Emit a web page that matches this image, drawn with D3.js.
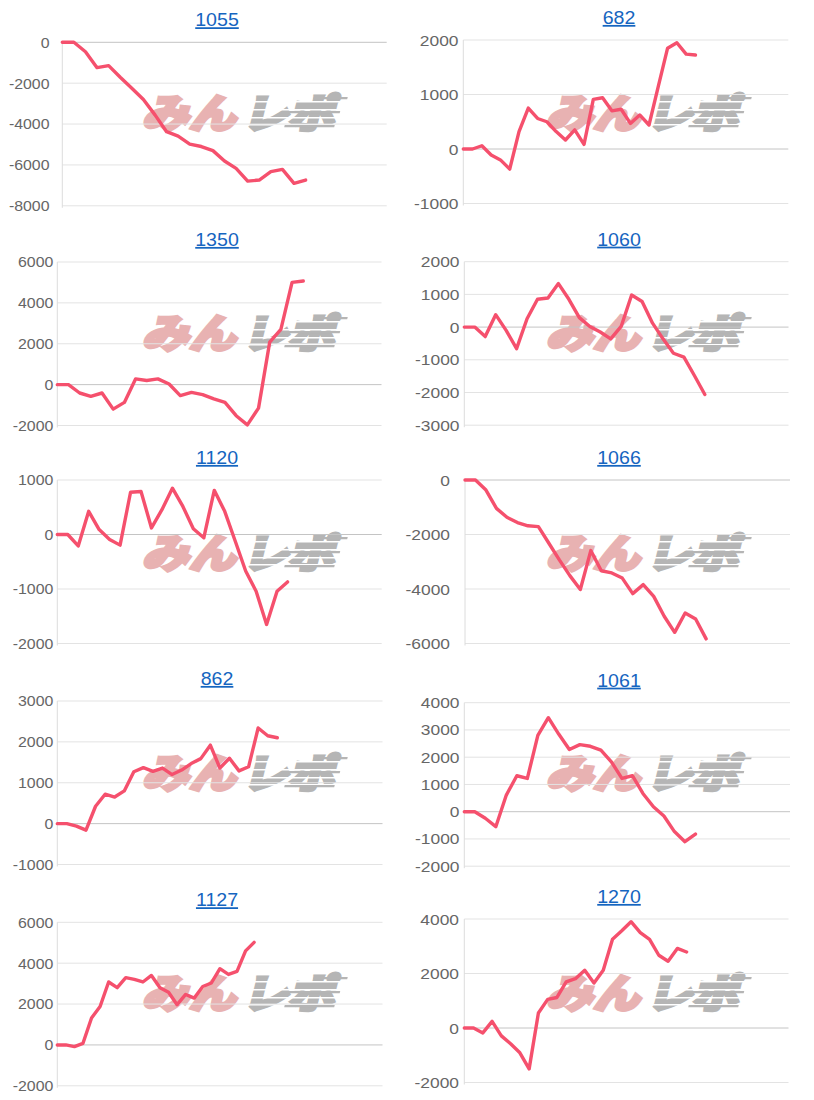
<!DOCTYPE html>
<html><head><meta charset="utf-8">
<script src="https://cdn.jsdelivr.net/npm/d3@7"></script>
<style>body{margin:0;background:#fff}svg{display:block}</style>
</head><body>
<svg id="c" width="814" height="1100"></svg>
<script>
// ---- data ----
const titles = ["1055","682","1350","1060","1120","1066","862","1061","1127","1270"];
const v1055 = [0,0,-460,-1240,-1140,-1710,-2250,-2800,-3550,-4375,-4590,-4980,-5100,-5300,-5810,-6170,-6790,-6740,-6330,-6220,-6900,-6740];
const v682  = [0,0,60,-110,-200,-370,320,750,560,500,320,165,350,85,910,940,700,730,470,625,440,1150,1850,1950,1740,1725];
const v1350 = [0,0,-410,-570,-410,-1200,-870,280,200,280,30,-540,-380,-490,-700,-870,-1520,-1970,-1150,2080,2700,5000,5070];
const v1060 = [0,0,-290,380,-100,-660,255,850,890,1330,850,290,20,-150,-360,20,980,785,120,-360,-800,-920,-1480,-2060];
const v1120 = [0,0,-210,425,90,-90,-195,775,790,120,455,850,515,105,-60,810,425,-120,-670,-1040,-1650,-1040,-870];
const v1066 = [0,0,-370,-1040,-1370,-1560,-1680,-1710,-2320,-2930,-3510,-4020,-2590,-3330,-3410,-3600,-4170,-3840,-4270,-5000,-5590,-4880,-5100,-5830];
const v862  = [0,0,-60,-160,425,720,650,800,1270,1370,1280,1360,1200,1310,1470,1590,1920,1360,1600,1290,1390,2340,2150,2100];
const v1061 = [0,0,-240,-550,610,1320,1220,2800,3450,2840,2280,2460,2400,2260,1830,1220,1320,670,180,-160,-730,-1100,-820];
const v1127 = [0,0,-80,80,1320,1880,3080,2800,3290,3210,3080,3400,2800,2580,1970,2470,2290,2860,3030,3730,3450,3600,4600,5020];
const v1270 = [0,0,-180,245,-290,-580,-910,-1500,550,1050,1120,1690,1810,2120,1650,2120,3260,3570,3900,3500,3250,2670,2450,2920,2790];
const seriesList = [v1055,v682,v1350,v1060,v1120,v1066,v862,v1061,v1127,v1270];
const yTicks = [
  [0,-2000,-4000,-6000,-8000],
  [2000,1000,0,-1000],
  [6000,4000,2000,0,-2000],
  [2000,1000,0,-1000,-2000,-3000],
  [1000,0,-1000,-2000],
  [0,-2000,-4000,-6000],
  [3000,2000,1000,0,-1000],
  [4000,3000,2000,1000,0,-1000,-2000],
  [6000,4000,2000,0,-2000],
  [4000,2000,0,-2000]
];
const slotCounts = [28,35,29,31,31,31,34,31,38,35];
const wmPink = "みん";
const wmGray = "レポ";

// ---- layout ----
const layout = [
  {left:62.3, right:386.7, top:42.3, labelX:49.5},
  {left:463.3,right:788.3, top:40,   labelX:458.5},
  {left:57.3, right:381.5, top:262,  labelX:53.3},
  {left:464.3,right:788.5, top:261.7,labelX:459.5},
  {left:57.3, right:381.7, top:480,  labelX:53.3},
  {left:465,  right:790,   top:480,  labelX:450},
  {left:57.3, right:382.5, top:701,  labelX:53.3},
  {left:464.3,right:790,   top:702.7,labelX:459.5},
  {left:57.3, right:382.5, top:922.3,labelX:53.3},
  {left:464.3,right:788.5, top:919,  labelX:459}
];
const plotH = 163.5;
const lineColor = "#f5506d";

const svg = d3.select("#c");

titles.forEach((t,i)=>{
  const L = layout[i];
  const isRight = i % 2 === 1;
  const vals = yTicks[i];
  const y = d3.scaleLinear().domain([d3.min(vals), d3.max(vals)]).range([L.top+plotH, L.top]);
  const x = d3.scaleLinear().domain([0, slotCounts[i]]).range([L.left, L.right]);
  const g = svg.append("g");
  const panelTop = Math.floor(i/2)*220;

  // watermark
  const wmX = isRight ? 538 : 134;
  const wmY = panelTop + 128;
  const wm = g.append("g").attr("transform", `translate(${wmX},${wmY}) skewX(-14)`);
  wm.append("text").attr("x", 8).attr("y", 0)
    .attr("font-family","'Noto Sans CJK JP'").attr("font-weight",900).attr("font-size",40)
    .attr("textLength",94).attr("lengthAdjust","spacingAndGlyphs")
    .attr("fill","#e8b2b2").attr("stroke","#e8b2b2").attr("stroke-width",3.2).attr("stroke-linejoin","miter")
    .text(wmPink);
  wm.append("text").attr("x", 108).attr("y", 0)
    .attr("font-family","'Noto Sans CJK JP'").attr("font-weight",900).attr("font-size",40)
    .attr("textLength",92).attr("lengthAdjust","spacingAndGlyphs")
    .attr("fill","#b5b5b5").attr("stroke","#b5b5b5").attr("stroke-width",3.2)
    .text(wmGray);
  [-27,-19,-11,-4].forEach(dy=>{
    wm.append("rect").attr("x",106).attr("y",dy).attr("width",100).attr("height",1.5).attr("fill","#fff");
  });
  [[-31,172,34],[-17,150,52],[-3,150,50]].forEach(([dy,x0,w])=>{
    wm.append("rect").attr("x",x0).attr("y",dy).attr("width",w).attr("height",2.2).attr("fill","#b5b5b5");
  });

  // grid
  vals.forEach(v=>{
    g.append("line").attr("x1",L.left).attr("x2",L.right).attr("y1",y(v)).attr("y2",y(v))
      .attr("stroke", v===0 ? "#c4c4c4" : "#e3e3e3").attr("stroke-width",1);
  });
  g.append("line").attr("x1",L.left).attr("x2",L.left).attr("y1",L.top).attr("y2",L.top+plotH+2)
    .attr("stroke","#dcdcdc").attr("stroke-width",1);

  // tick labels
  const sx = isRight ? 1.16 : 1.06;
  vals.forEach(v=>{
    g.append("text").attr("transform",`translate(${L.labelX},${y(v)}) scale(${sx},1)`)
      .attr("text-anchor","end").attr("dominant-baseline","central")
      .attr("font-family","'Liberation Sans',Arial,sans-serif").attr("font-size",15)
      .attr("fill","#666").text(v);
  });

  // line
  const line = d3.line().x((d,j)=>x(j)).y(d=>y(d)).curve(d3.curveLinear);
  g.append("path").datum(seriesList[i]).attr("d",line)
    .attr("fill","none").attr("stroke",lineColor).attr("stroke-width",3.4)
    .attr("stroke-linejoin","round").attr("stroke-linecap","round");

  // title
  const tx = isRight ? 619 : 217;
  g.append("text").attr("transform",`translate(${tx},${L.top-16}) scale(1.12,1)`)
    .attr("text-anchor","middle").attr("font-family","'Liberation Sans',Arial,sans-serif")
    .attr("font-size",17.5).attr("fill","#1565c0").attr("text-decoration","underline")
    .text(t);
});
</script>
</body></html>
